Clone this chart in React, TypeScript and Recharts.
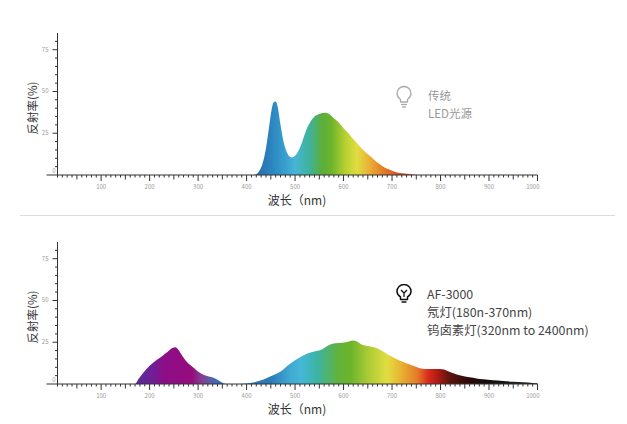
import { Area, AreaChart, XAxis, YAxis } from "recharts";

// LED 光源 spectrum (nm -> %)
const ledWavelengths = [10, 400, 415, 425, 432, 440, 446, 451, 456, 460, 464, 470, 477, 485, 492, 500, 508, 516, 524, 532, 540, 550, 562, 570, 580, 590, 600, 610, 620, 631, 642, 652, 662, 672, 682, 693, 705, 721, 740, 756, 1000];
const ledValues = [0, 0, 0, 2, 6, 16, 28, 38, 43.5, 44, 41, 30, 19, 12.5, 10.5, 11.5, 15, 21, 27.5, 32, 35, 36.5, 37.2, 36.5, 34, 31.5, 28, 25, 21.5, 18, 14.5, 12, 9.5, 7, 5, 3.4, 2, 1, 0.4, 0, 0];

// AF-3000 spectrum (nm -> %)
const afWavelengths = [10, 170, 177, 185, 195, 206, 215, 225, 236, 247, 253, 258, 265, 273, 283, 292, 302, 312, 322, 332, 340, 348, 358, 385, 400, 416, 430, 443, 457, 471, 485, 499, 513, 527, 540, 554, 565, 575, 590, 605, 620, 630, 638, 650, 665, 680, 693, 707, 721, 735, 749, 760, 773, 790, 804, 818, 832, 846, 860, 874, 888, 908, 929, 950, 971, 990, 1000];
const afValues = [0, 0, 3, 6, 9.5, 12.4, 14.5, 16.5, 19, 21.5, 22, 21, 18, 14.5, 11.5, 9.5, 7, 5.4, 4.5, 3.8, 2.5, 1, 0, 0, 0.3, 1, 2.2, 3.8, 5.5, 7.6, 11, 14, 16.5, 18.4, 19.5, 20.5, 22.5, 24, 24.5, 25, 26, 25, 23.5, 22.8, 21.8, 19.8, 17.4, 15.3, 13.4, 11.8, 10.4, 9.3, 9, 9, 8.8, 7.3, 5.8, 4.8, 4, 3.3, 2.8, 2.2, 1.8, 1.3, 1, 0.6, 0.4];

const ledStopNm = [415, 450, 480, 500, 530, 555, 575, 605, 628, 652, 682, 712, 745];
const ledStopColors = ["#2a68a8", "#2b84bf", "#389fce", "#46b5d6", "#3fb29a", "#5aae3c", "#6cb42c", "#bad132", "#e0dd40", "#e9b236", "#e47c27", "#da521e", "#c8401a"];

const afStopNm = [175, 205, 232, 287, 306, 326, 345, 450, 490, 512, 545, 590, 615, 650, 690, 720, 752, 776, 792, 820, 860, 900, 1000];
const afStopColors = ["#5b2c92", "#6e1f97", "#8e0d86", "#950c7e", "#873c8f", "#5a5fa8", "#2f6db1", "#2b7cb8", "#3fa9d2", "#45b7d8", "#3bb4a4", "#62b23a", "#6cb42a", "#a9cb35", "#e2dd40", "#e8b032", "#e57a28", "#d8281c", "#b41c14", "#5a140c", "#2a0a06", "#151010", "#222222"];

const X_MIN = 10;
const X_MAX = 1000;
const yTicks = [0, 5, 10, 15, 20, 25, 30, 35, 40, 45, 50, 55, 60, 65, 70, 75, 80];
const xLabelTicks = [100, 200, 300, 400, 500, 600, 700, 800, 900, 1000];
const xTicks = Array.from({ length: 100 }, (_, i) => (i + 1) * 10);

const ledData = ledWavelengths.map((nm, i) => ({ nm, v: ledValues[i] }));
const afData = afWavelengths.map((nm, i) => ({ nm, v: afValues[i] }));

const FONT = '"Noto Sans CJK SC", "Noto Sans", sans-serif';
const AXIS = "#333";

function XTick({ x, y, payload }: any) {
  const v = payload.value as number;
  const len = v % 100 === 0 ? 6 : v % 50 === 0 ? 4.5 : 2.5;
  const last = v === X_MAX;
  return (
    <g>
      <line x1={x} x2={x} y1={y} y2={y + len} stroke={AXIS} strokeWidth={1} />
      {xLabelTicks.includes(v) && (
        <text
          x={last ? x + 2 : x}
          y={y + 14}
          textAnchor={last ? "end" : "middle"}
          fontSize={6}
          fill="#999"
          fontFamily={FONT}
        >
          {v}
        </text>
      )}
    </g>
  );
}

function YTick({ x, y, payload }: any) {
  const v = payload.value as number;
  const len = v === 0 ? 11 : v % 25 === 0 ? 5 : 2.5;
  return (
    <g>
      <line x1={x - len} x2={x} y1={y} y2={y} stroke={AXIS} strokeWidth={1} />
      {v % 25 === 0 && (
        <text
          x={v === 0 ? x - 2 : x - 9}
          y={v === 0 ? y - 2 : y + 2}
          textAnchor="end"
          fontSize={6}
          fill="#999"
          fontFamily={FONT}
        >
          {v}
        </text>
      )}
    </g>
  );
}

function Spectrum({ data, id, stopNm, stopColors }: { data: { nm: number; v: number }[]; id: string; stopNm: number[]; stopColors: string[] }) {
  return (
    <AreaChart width={627} height={215} data={data} margin={{ top: 33, right: 89.5, bottom: 0, left: 20 }}>
      <defs>
        <linearGradient id={id} x1="0" y1="0" x2="1" y2="0">
          {stopNm.map((nm, i) => (
            <stop key={nm} offset={(nm - X_MIN) / (X_MAX - X_MIN)} stopColor={stopColors[i]} />
          ))}
        </linearGradient>
      </defs>
      <XAxis
        type="number"
        dataKey="nm"
        domain={[X_MIN, X_MAX]}
        ticks={xTicks}
        interval={0}
        tickSize={0}
        tickMargin={0}
        tickLine={false}
        axisLine={{ stroke: AXIS }}
        height={40}
        tick={(p: any) => <XTick {...p} />}
      />
      <YAxis
        type="number"
        domain={[0, 85]}
        ticks={yTicks}
        interval={0}
        tickSize={0}
        tickMargin={0}
        tickLine={false}
        axisLine={{ stroke: AXIS }}
        width={37.5}
        tick={(p: any) => <YTick {...p} />}
      />
      <Area type="monotone" dataKey="v" stroke="none" fill={`url(#${id})`} fillOpacity={1} isAnimationActive={false} />
    </AreaChart>
  );
}

const abs = (left: number, top: number): React.CSSProperties => ({ position: "absolute", left, top, whiteSpace: "nowrap" });

export default function App() {
  return (
    <div style={{ position: "absolute", left: 0, top: 0, width: 627, height: 424, background: "#fff", fontFamily: FONT, overflow: "hidden" }}>
      <div style={abs(0, 0)}>
        <Spectrum data={ledData} id="ledFill" stopNm={ledStopNm} stopColors={ledStopColors} />
      </div>
      <div style={abs(0, 209)}>
        <Spectrum data={afData} id="afFill" stopNm={afStopNm} stopColors={afStopColors} />
      </div>

      {/* separator */}
      <div style={{ position: "absolute", left: 20, top: 215, width: 595, height: 1, background: "#ddd" }} />

      {/* axis titles */}
      {[0, 209].map((dy) => (
        <div key={dy}>
          <div style={{ ...abs(32, 108 + dy), fontSize: 11.5, color: "#333", transform: "translate(-50%, -50%) rotate(-90deg)" }}>反射率(%)</div>
          <div style={{ ...abs(297, 199 + dy), fontSize: 12, color: "#333", transform: "translate(-50%, -50%)" }}>波长（nm)</div>
        </div>
      ))}

      {/* legend: traditional LED */}
      <svg style={{ position: "absolute", left: 395, top: 85 }} width={18} height={24} viewBox="0 0 18 24">
        <path d="M5.5 14.5 C3 12.5 2 10.5 2 8.5 A7 7 0 0 1 16 8.5 C16 10.5 15 12.5 12.5 14.5 L12.5 17 L5.5 17 Z" fill="none" stroke="#aaa" strokeWidth={1.3} strokeLinejoin="round" />
        <line x1={6} x2={12} y1={19.5} y2={19.5} stroke="#aaa" strokeWidth={1.3} />
        <line x1={7} x2={11} y1={22} y2={22} stroke="#aaa" strokeWidth={1.3} />
      </svg>
      <div style={{ ...abs(428, 86), fontSize: 11.5, color: "#999", lineHeight: "18px" }}>
        传统
        <br />
        LED光源
      </div>

      {/* legend: AF-3000 */}
      <svg style={{ position: "absolute", left: 395, top: 284 }} width={18} height={20} viewBox="0 0 18 20">
        <path d="M5.5 13 C3.2 11.5 2 9.5 2 7.5 A7 7 0 0 1 16 7.5 C16 9.5 14.8 11.5 12.5 13 L12.5 15.5 L5.5 15.5 Z" fill="none" stroke="#111" strokeWidth={1.5} strokeLinejoin="round" />
        <path d="M6 6 L9 9 L12 6 M9 9 L9 13" fill="none" stroke="#111" strokeWidth={1.3} />
        <line x1={6.5} x2={11.5} y1={18} y2={18} stroke="#111" strokeWidth={1.5} />
      </svg>
      <div style={{ ...abs(427, 285), fontSize: 12.4, color: "#444", lineHeight: "18px" }}>
        AF-3000
        <br />
        氖灯(180n-370nm)
        <br />
        钨卤素灯(320nm to 2400nm)
      </div>
    </div>
  );
}
